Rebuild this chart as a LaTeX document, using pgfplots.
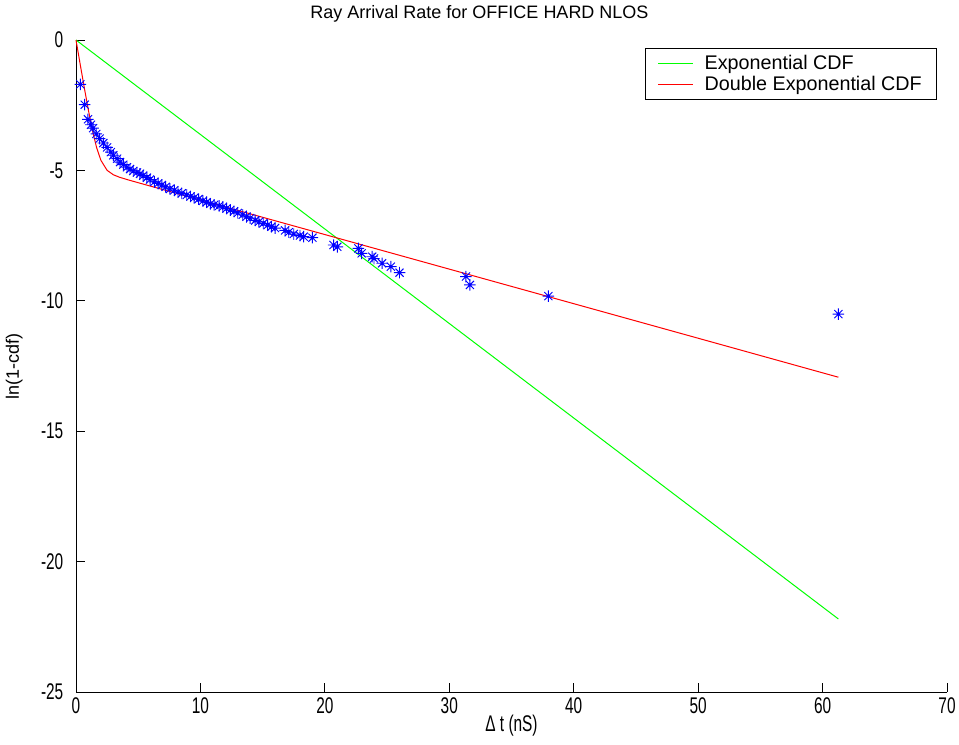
\documentclass[border=0pt]{standalone}
\usepackage{pgfplots}
\pgfplotsset{compat=1.18}
\usepackage{fontspec}
\setmainfont{Liberation Sans}
\newfontfamily\narrowfont[FakeStretch=0.68]{Liberation Sans}
\definecolor{mblue}{RGB}{0,0,255}
\definecolor{mred}{RGB}{255,0,0}
\definecolor{mgreen}{RGB}{0,255,0}
\pgfdeclareplotmark{ast8}{%
 \pgfpathmoveto{\pgfqpoint{-\pgfplotmarksize}{0pt}}\pgfpathlineto{\pgfqpoint{\pgfplotmarksize}{0pt}}%
 \pgfpathmoveto{\pgfqpoint{0pt}{-\pgfplotmarksize}}\pgfpathlineto{\pgfqpoint{0pt}{\pgfplotmarksize}}%
 \pgfpathmoveto{\pgfqpoint{-0.707\pgfplotmarksize}{-0.707\pgfplotmarksize}}\pgfpathlineto{\pgfqpoint{0.707\pgfplotmarksize}{0.707\pgfplotmarksize}}%
 \pgfpathmoveto{\pgfqpoint{-0.707\pgfplotmarksize}{0.707\pgfplotmarksize}}\pgfpathlineto{\pgfqpoint{0.707\pgfplotmarksize}{-0.707\pgfplotmarksize}}%
 \pgfusepathqstroke}
\begin{document}
\begin{tikzpicture}
\begin{axis}[
  scale only axis,
  width=653.25pt, height=489pt,
  xmin=0, xmax=70, ymin=-25, ymax=0,
  axis x line=bottom, axis y line=left,
  axis line style={-, black, line width=0.75pt},
  xtick={0,10,...,70}, ytick={-25,-20,...,0},
  tick align=inside, major tick length=7pt,
  tick style={black, line width=0.75pt},
  /pgf/number format/assume math mode=true,
  ticklabel style={font=\narrowfont\fontsize{17}{17}\selectfont},
  xticklabel style={yshift=-1pt},
  yticklabel style={xshift=-6pt},
  title={Ray Arrival Rate for OFFICE HARD NLOS},
  title style={font=\fontsize{13.5}{14}\selectfont, yshift=4pt, xshift=-24pt},
  xlabel={\narrowfont Δ t (nS)},
  xlabel style={font=\fontsize{17}{17}\selectfont, yshift=6pt},
  ylabel={ln(1-cdf)},
  ylabel style={font=\fontsize{13.5}{14}\selectfont, yshift=7pt},
  legend style={at={(rel axis cs:0.9885,0.9877)}, anchor=north east,
    font=\fontsize{14.8}{16}\selectfont, draw=black, line width=0.75pt,
    inner xsep=9pt, inner ysep=3pt, row sep=-0.5pt, cells={anchor=west}},
  legend image code/.code={\draw[#1, line width=0.75pt] (0pt,0pt) -- (26pt,0pt);},
  legend columns=1,
  clip=false,
]
\addplot[mgreen, line width=0.75pt] coordinates {(0,0) (61.27,-22.2)};
\addlegendentry{\hspace{6.5pt}Exponential CDF\hspace{2pt}}
\addplot[mred, line width=0.75pt] coordinates {
(0,0) (0.35,-0.967) (0.70,-1.917) (1.0,-2.697) (1.35,-3.525) (1.65,-4.115)
(2.0,-4.613) (2.5,-4.997) (3.0,-5.167) (3.5,-5.263) (4.3,-5.378) (6.0,-5.605)
(10,-6.135) (20,-7.46) (30,-8.785) (40,-10.11) (50,-11.435) (61.27,-12.93)};
\addlegendentry{\hspace{6.5pt}Double Exponential CDF\hspace{2pt}}
\addplot[mblue, only marks, mark=ast8, mark size=4.3pt, line width=0.7pt, forget plot] coordinates {
(0.35,-1.70) (0.70,-2.48) (0.96,-3.04) (1.2,-3.25) (1.37,-3.38) (1.63,-3.60)
(1.9,-3.78) (2.2,-3.95) (2.5,-4.12) (2.8,-4.30) (3.0,-4.42) (3.3,-4.55)
(3.54,-4.68) (3.8,-4.78) (4.1,-4.88) (4.34,-4.95) (4.6,-5.02) (4.9,-5.08)
(5.14,-5.13) (5.4,-5.20) (5.7,-5.28) (5.95,-5.35) (6.3,-5.44) (6.6,-5.50)
(6.9,-5.56) (7.2,-5.63) (7.55,-5.71) (7.9,-5.76) (8.2,-5.83) (8.5,-5.88)
(8.9,-5.94) (9.2,-6.00) (9.5,-6.05) (9.85,-6.10) (10.2,-6.17) (10.5,-6.22)
(10.8,-6.28) (11.1,-6.32) (11.5,-6.36) (11.8,-6.40) (12.1,-6.46) (12.4,-6.52)
(12.7,-6.57) (13.0,-6.63) (13.4,-6.70) (13.7,-6.78) (14.0,-6.83) (14.4,-6.92)
(14.7,-6.97) (15.05,-7.03) (15.4,-7.10) (15.7,-7.16) (16.0,-7.21) (16.8,-7.30)
(17.1,-7.37) (17.5,-7.44) (18.0,-7.50) (18.3,-7.54) (19.0,-7.58) (20.7,-7.86)
(21.0,-7.93) (22.7,-7.99) (22.96,-8.18) (23.8,-8.31) (23.95,-8.38) (24.6,-8.56)
(25.3,-8.69) (26.0,-8.92) (31.34,-9.07) (31.66,-9.39) (37.96,-9.82) (61.27,-10.51)};
\end{axis}
\pgfresetboundingbox
\path (-57pt,-39pt) rectangle (662.25pt,519pt);
\end{tikzpicture}
\end{document}
